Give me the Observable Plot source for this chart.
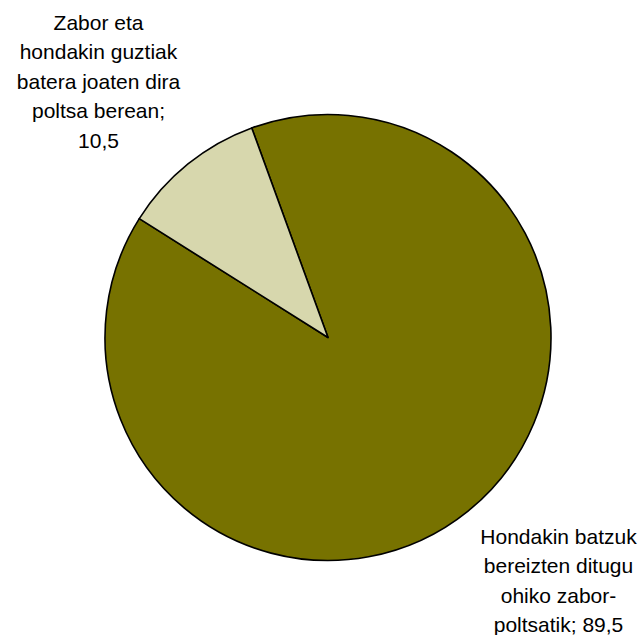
<!DOCTYPE html>
<html><head><meta charset="utf-8">
<script src="https://cdn.jsdelivr.net/npm/d3@7"></script>
<script src="https://cdn.jsdelivr.net/npm/@observablehq/plot@0.6"></script>
<style>html,body{margin:0;padding:0;background:#fff}</style>
</head><body><div id="chart"></div>
<script>
// Data
const categories = [
  "Hondakin batzuk bereizten ditugu ohiko zabor-poltsatik",
  "Zabor eta hondakin guztiak batera joaten dira poltsa berean"
];
const values = [89.5, 10.5];
const labelLines = [
  ["Hondakin batzuk", "bereizten ditugu", "ohiko zabor-", "poltsatik; 89,5"],
  ["Zabor eta", "hondakin guztiak", "batera joaten dira", "poltsa berean;", "10,5"]
];
const colors = ["#777200", "#d7d7ad"];

// Layout
const W = 639, H = 635, cx = 328, cy = 337.5, R = 223;
const table = categories.map((c, i) => ({category: c, value: values[i], lines: labelLines[i]}));
const pieData = d3.pie().sort(null).value(d => d.value)
  .startAngle(340 * Math.PI / 180).endAngle(700 * Math.PI / 180)(table);
const arcGen = d3.arc().innerRadius(0).outerRadius(R);

const labels = pieData.map(p => {
  const mid = (p.startAngle + p.endAngle) / 2;
  const s = Math.sin(mid), up = Math.cos(mid) > 0;
  return {
    text: p.data.lines.join("\n"),
    x: cx + Math.sign(s) * 230,
    y: up ? cy - 258.5 : cy + 240.5
  };
});

const pieMark = (index, scales, values, dimensions) => {
  const g = d3.create("svg:g");
  g.selectAll("path").data(pieData).join("path")
    .attr("transform", `translate(${scales.x(cx)},${scales.y(cy)})`)
    .attr("d", arcGen)
    .attr("fill", (d, i) => colors[i])
    .attr("stroke", "#000")
    .attr("stroke-width", 1.6)
    .attr("stroke-linejoin", "round");
  return g.node();
};

const chart = Plot.plot({
  width: W, height: H, margin: 0,
  x: {domain: [0, W], range: [0, W], axis: null},
  y: {domain: [0, H], range: [0, H], axis: null},
  style: {fontFamily: "'Liberation Sans', Arial, sans-serif", background: "#fff"},
  marks: [
    pieMark,
    Plot.text(labels, {x: "x", y: "y", text: "text", fontSize: 21, lineHeight: 29.5 / 21,
      textAnchor: "middle", lineAnchor: "middle", fill: "#000"})
  ]
});
document.getElementById("chart").appendChild(chart);
</script>
</body></html>
